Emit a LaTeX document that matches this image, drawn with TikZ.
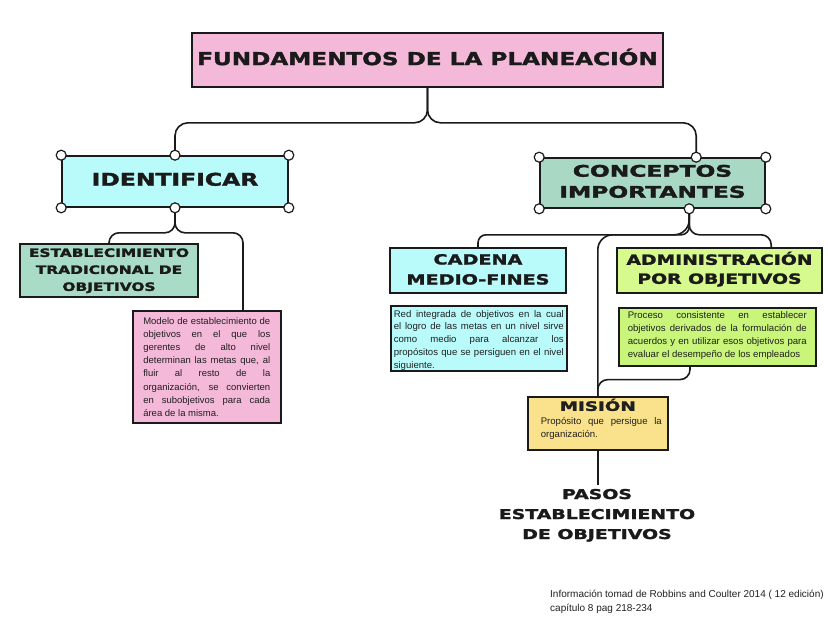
\documentclass[tikz,border=0pt]{standalone}
\usepackage{fontspec}
\usepackage{graphicx}
\setmainfont{Liberation Sans}
\newfontfamily\heavyfam{DejaVu Sans}[BoldFeatures={FakeBold=1.6}]
\usetikzlibrary{calc}
\definecolor{pinkc}{HTML}{F4B8D9}
\definecolor{cyanc}{HTML}{B9FBFB}
\definecolor{mintc}{HTML}{A9DCC6}
\definecolor{mintd}{HTML}{A9D8C4}
\definecolor{limeh}{HTML}{D6FA8E}
\definecolor{limed}{HTML}{C8F57A}
\definecolor{yellc}{HTML}{FAE28C}
\definecolor{ink}{HTML}{1A1A1A}
\definecolor{txt}{HTML}{202020}
\newcommand{\hv}[4]{\scalebox{#1}[1]{\fontsize{#2}{#3}\selectfont\heavyfam\bfseries\begin{tabular}{@{}c@{}}#4\end{tabular}}}
\tikzset{
  box/.style={draw=ink, line width=1.6pt, inner sep=0pt, rectangle, text=ink},
  conn/.style={draw=ink, line width=1.6pt, rounded corners=10pt},
  dot/.style={circle, draw=ink, fill=white, line width=1.2pt, minimum size=10pt, inner sep=0pt},
  desc/.style={box, anchor=north west, inner ysep=0pt, text=txt}
}
\begin{document}
\begin{tikzpicture}[x=1pt,y=-1pt]
\useasboundingbox (0,0) rectangle (828,621);
% boxes
\node[box, fill=pinkc, minimum width=471pt, minimum height=54pt] (title) at (427.5,60) {\hv{1.3}{17.8}{21}{FUNDAMENTOS DE LA PLANEACIÓN}};
\node[box, fill=cyanc, minimum width=226pt, minimum height=51pt] (ident) at (175,181.5) {\hv{1.34}{17.5}{21}{IDENTIFICAR}};
\node[box, fill=mintc, minimum width=178pt, minimum height=53pt] (est) at (109,270.5) {\hv{1.34}{11.5}{17}{ESTABLECIMIENTO\\TRADICIONAL DE\\OBJETIVOS}};
\node[box, fill=mintd, minimum width=225pt, minimum height=50pt] (conc) at (652.5,183) {\hv{1.46}{16}{21}{CONCEPTOS\\IMPORTANTES}};
\node[box, fill=cyanc, minimum width=176pt, minimum height=45pt] (cadena) at (478,270.5) {\hv{1.37}{14}{20}{CADENA\\MEDIO-FINES}};
\node[box, fill=limeh, minimum width=205pt, minimum height=45pt] (admin) at (719.5,270.5) {\hv{1.34}{14}{19}{ADMINISTRACIÓN\\POR OBJETIVOS}};
\node[desc, fill=pinkc, inner xsep=10.5pt] (tdesc) at (132,310) {\parbox[c][112pt][t]{127pt}{\fontsize{9.5}{13.2}\selectfont\vspace*{6.5pt}Modelo de establecimiento de\linebreak objetivos en el que los\linebreak gerentes de alto nivel\linebreak determinan las metas que, al\linebreak fluir al resto de la\linebreak organización, se convierten\linebreak en subobjetivos para cada\linebreak área de la misma.}};
\node[desc, fill=cyanc, inner xsep=3pt] (cdesc) at (390,305) {\parbox[c][65pt][t]{170pt}{\fontsize{9.6}{12.7}\selectfont\vspace*{4.5pt}Red integrada de objetivos en la cual\linebreak el logro de las metas en un nivel sirve\linebreak como medio para alcanzar los\linebreak propósitos que se persiguen en el nivel\linebreak siguiente.}};
\node[desc, fill=limed, inner xsep=9pt] (adesc) at (618,307) {\parbox[c][58pt][t]{179pt}{\fontsize{9.6}{12.8}\selectfont\vspace*{4pt}Proceso consistente en establecer\linebreak objetivos derivados de la formulación de\linebreak acuerdos y en utilizar esos objetivos para\linebreak evaluar el desempeño de los empleados}};
\node[desc, fill=yellc, inner xsep=0pt] (mision) at (527,396) {\parbox[c][53pt][t]{140pt}{\vspace*{2pt}{\centering\hv{1.41}{13}{13}{MISIÓN}\par}\vspace{1pt}\fontsize{9.6}{13.3}\selectfont\hspace*{13pt}\parbox[t]{121pt}{Propósito que persigue la\linebreak organización.}}};
\node[text=ink, inner sep=0pt] (pasos) at (597,515) {\hv{1.4}{13.5}{20}{PASOS\\ESTABLECIMIENTO\\DE OBJETIVOS}};
\node[anchor=west, align=left, inner sep=0pt, text=txt, font=\fontsize{10}{14}\selectfont] (foot) at (550,602) {Información tomad de Robbins and Coulter 2014 ( 12 edición)\\capítulo 8 pag 218-234};
% connector end points
\coordinate (ctop) at ($(conc.north west)+(157,0)$);
\coordinate (cbot) at ($(conc.south west)+(150,0)$);
\coordinate (tdin) at ($(tdesc.north west)+(111,0)$);
\coordinate (ain) at ($(admin.north west)+(155,0)$);
\coordinate (aout) at ($(adesc.south west)+(72,0)$);
% connectors
\draw[conn, rounded corners=13pt] (title.south) -- ++(0,35) -| (ident.north);
\draw[conn, rounded corners=13pt] (title.south) -- ++(0,35) -| (ctop);
\draw[conn] (ident.south) -- ++(0,25) -| (est.north);
\draw[conn] (ident.south) -- ++(0,25) -| (tdin);
\draw[conn, rounded corners=8pt] (cbot) -- ++(0,26) -| (cadena.north);
\draw[conn, rounded corners=15pt] (cbot) -- ++(0,26) -| (mision.north);
\draw[conn] (cbot) -- ++(0,26) -| (ain);
\draw[conn] (aout) -- ++(0,13) -| (mision.north);
\draw[conn] (mision.south) -- (mision.south |- pasos.north);
% handle dots
\foreach \a [count=\i] in {north west,north east,south west,south east,north,south}
  \node[dot] (di\i) at (ident.\a) {};
\foreach \a [count=\i] in {north west,north east,south west,south east}
  \node[dot] (dc\i) at (conc.\a) {};
\node[dot] (dct) at (ctop) {};
\node[dot] (dcb) at (cbot) {};
\end{tikzpicture}
\end{document}
